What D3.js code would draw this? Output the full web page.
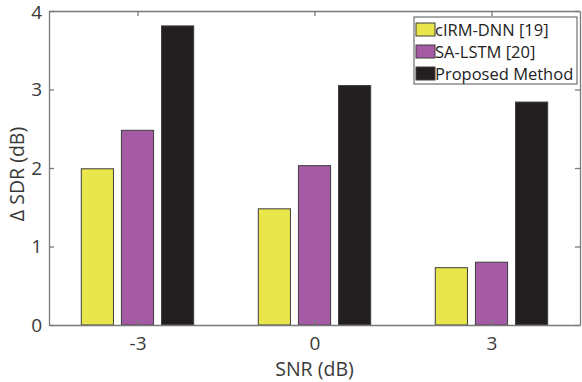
<!DOCTYPE html>
<html>
<head>
<meta charset="utf-8">
<script src="https://cdn.jsdelivr.net/npm/d3@7"></script>
<style>
  body { margin: 0; background: #fff; }
  text { font-family: "Open Sans", "Noto Sans", sans-serif; fill: #3a3a3a; }
</style>
</head>
<body>
<svg id="chart" width="582" height="382"></svg>
<script>
// data
const snr = [-3, 0, 3];
const series = ['cIRM-DNN [19]', 'SA-LSTM [20]', 'Proposed Method'];
const cirmDnn = [1.99, 1.48, 0.73];
const saLstm = [2.48, 2.03, 0.80];
const proposed = [3.81, 3.05, 2.84];
const yTicks = [0, 1, 2, 3, 4];

const colors = ['#e9e64b', '#a55aa4', '#231f20'];
const values = [cirmDnn, saLstm, proposed];

const svg = d3.select('svg#chart');
const mLeft = 49, mRight = 580, mTop = 11, mBottom = 325;

const x = d3.scaleLinear().domain([-4.5, 4.5]).range([mLeft, mRight]);
const y = d3.scaleLinear().domain([0, 4]).range([mBottom, mTop]);

const offset = 0.68;   // bar spacing inside a group, in x units
const barW = x(0.545) - x(0);

// bars
values.forEach((vals, i) => {
  svg.append('g')
    .selectAll('rect')
    .data(vals)
    .enter()
    .append('rect')
    .attr('x', (d, j) => x(snr[j] + (i - 1) * offset) - barW / 2)
    .attr('y', d => y(d))
    .attr('width', barW)
    .attr('height', d => y(0) - y(d))
    .attr('fill', colors[i])
    .attr('stroke', '#3d3d3d')
    .attr('stroke-width', 1);
});

// axes (matlab style: plain hyphen, integer labels)
const fmt = d => String(d);
const xAxis = d3.axisBottom(x).tickValues(snr).tickFormat(fmt).tickSizeInner(-5).tickSizeOuter(0).tickPadding(12);
const yAxis = d3.axisLeft(y).tickValues(yTicks).tickFormat(fmt).tickSizeInner(-5).tickSizeOuter(0).tickPadding(7);

const gx = svg.append('g').attr('transform', `translate(0,${mBottom})`).call(xAxis);
const gy = svg.append('g').attr('transform', `translate(${mLeft},0)`).call(yAxis);
const gxTop = svg.append('g').attr('transform', `translate(0,${mTop})`)
  .call(d3.axisTop(x).tickValues(snr).tickSizeInner(-5).tickSizeOuter(0).tickFormat(''));
const gyRight = svg.append('g').attr('transform', `translate(${mRight},0)`)
  .call(d3.axisRight(y).tickValues(yTicks).tickSizeInner(-5).tickSizeOuter(0).tickFormat(''));

[gx, gy, gxTop, gyRight].forEach(g => {
  g.attr('font-family', null);
  g.select('.domain').attr('stroke', '#7a7a7a').attr('stroke-width', 1.3);
  g.selectAll('.tick line').attr('stroke', '#7a7a7a').attr('stroke-width', 1.3);
  g.selectAll('.tick text').style('font-size', '19px').attr('fill', '#3a3a3a');
});
// keep the top "4" inside the picture
gy.selectAll('.tick text').filter(d => d === 4).attr('dy', '0.4em');

// axis labels
svg.append('text')
  .attr('x', x(0))
  .attr('y', 376)
  .attr('text-anchor', 'middle')
  .style('font-size', '19.5px')
  .text('SNR (dB)');

svg.append('text')
  .attr('transform', `translate(24,${(mTop + mBottom) / 2 + 6}) rotate(-90)`)
  .attr('text-anchor', 'middle')
  .style('font-size', '19.5px')
  .text('Δ SDR (dB)');

// legend
const lg = svg.append('g').attr('transform', 'translate(414,17)');
lg.append('rect')
  .attr('width', 163).attr('height', 67)
  .attr('fill', '#fff').attr('stroke', '#555').attr('stroke-width', 1);

series.forEach((name, i) => {
  const row = lg.append('g').attr('transform', `translate(0,${12 + i * 22})`);
  row.append('rect')
    .attr('x', 2).attr('y', -6)
    .attr('width', 19).attr('height', 13)
    .attr('fill', colors[i]).attr('stroke', '#3d3d3d').attr('stroke-width', 1);
  row.append('text')
    .attr('x', 21).attr('y', 6.5)
    .style('font-size', '16.5px')
    .style('fill', '#222')
    .text(name);
});
</script>
</body>
</html>
